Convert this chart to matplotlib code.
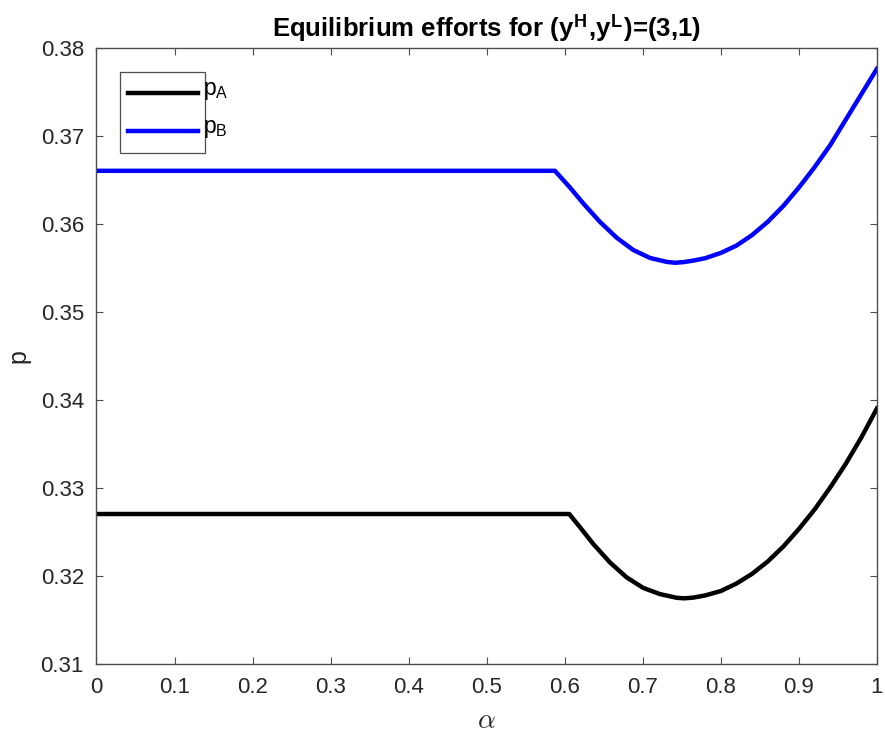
import numpy as np
import matplotlib
matplotlib.use("Agg")
import matplotlib.pyplot as plt
from matplotlib.patches import Rectangle
from matplotlib.lines import Line2D

plt.rcParams['font.family'] = ['Liberation Sans', 'DejaVu Sans']
plt.rcParams['mathtext.fontset'] = 'cm'

# equilibrium effort for player B
alpha_B = [0.0, 0.5874, 0.6067, 0.6237, 0.6451, 0.6665, 0.6878, 0.7091, 0.7306, 0.7412,
           0.7518, 0.7650, 0.7800, 0.8000, 0.8200, 0.8400, 0.8600, 0.8800, 0.9000,
           0.9200, 0.9400, 0.9600, 0.9800, 1.0]
p_B = [0.3661, 0.3661, 0.3642, 0.3624, 0.3603, 0.3585, 0.3571, 0.3562, 0.35575, 0.35565,
       0.35572, 0.35590, 0.35617, 0.35677, 0.3576, 0.3588, 0.3603, 0.3621, 0.3642,
       0.3665, 0.3690, 0.3719, 0.3748, 0.3777]

# equilibrium effort for player A
alpha_A = [0.0, 0.6058, 0.6195, 0.6365, 0.6579, 0.6793, 0.7006, 0.7220, 0.7434, 0.7530,
           0.7646, 0.7800, 0.8000, 0.8200, 0.8400, 0.8600, 0.8800, 0.9000, 0.9200,
           0.9400, 0.9600, 0.9800, 1.0]
p_A = [0.3271, 0.3271, 0.3256, 0.3237, 0.3216, 0.3199, 0.3187, 0.3180, 0.31758, 0.31752,
       0.31760, 0.31785, 0.31835, 0.3192, 0.3203, 0.3217, 0.3234, 0.3254, 0.3276,
       0.3301, 0.3328, 0.3358, 0.3391]

xticks = np.arange(0, 1.01, 0.1)
yticks = np.arange(0.31, 0.3801, 0.01)
series_names = [r'$\mathregular{p_A}$', r'$\mathregular{p_B}$']
series_colors = ['k', 'b']

fig = plt.figure(figsize=(8.85, 7.38), dpi=100)
ax = fig.add_axes([0.109, 0.0996, 0.8819, 0.8347])

ax.plot(alpha_A, p_A, color=series_colors[0], linewidth=3.2, solid_joinstyle='round')
ax.plot(alpha_B, p_B, color=series_colors[1], linewidth=3.2, solid_joinstyle='round')

ax.set_xlim(0, 1)
ax.set_ylim(0.31, 0.38)
ax.set_xticks(xticks)
ax.set_xticklabels(['0', '0.1', '0.2', '0.3', '0.4', '0.5', '0.6', '0.7', '0.8', '0.9', '1'])
ax.set_yticks(yticks)
ax.set_yticklabels(['%.2f' % v for v in yticks])

gray = '#262626'
for s in ax.spines.values():
    s.set_color('#4d4d4d')
    s.set_linewidth(1.0)
ax.tick_params(direction='in', top=True, right=True, length=5, width=0.8,
               color='#4d4d4d', labelsize=16, labelcolor=gray, pad=9)

ax.set_xlabel(r'$\alpha$', fontsize=20, color=gray, labelpad=7)
ax.set_ylabel('p', fontsize=18, color=gray, labelpad=7)
ax.set_title(r'Equilibrium efforts for (y$^\mathregular{H}$,y$^\mathregular{L}$)=(3,1)',
             fontsize=18.5, fontweight='bold', pad=8)

# legend box, drawn like the MATLAB one (labels spill past the frame)
ax.add_patch(Rectangle((0.0301, 0.830), 0.1089, 0.1315, transform=ax.transAxes,
                       facecolor='white', edgecolor='#4d4d4d', linewidth=0.9, zorder=5))
for i, (name, c) in enumerate(zip(series_names, series_colors)):
    yy = 0.9274 - i * 0.0617
    ax.add_line(Line2D([0.0404, 0.130], [yy, yy], transform=ax.transAxes,
                       color=c, linewidth=3.2, zorder=6))
    ax.text(0.1365, yy + 0.004, name, transform=ax.transAxes, fontsize=16.5,
            color='k', va='center', ha='left', zorder=6)

fig.savefig('out.png', dpi=100)
